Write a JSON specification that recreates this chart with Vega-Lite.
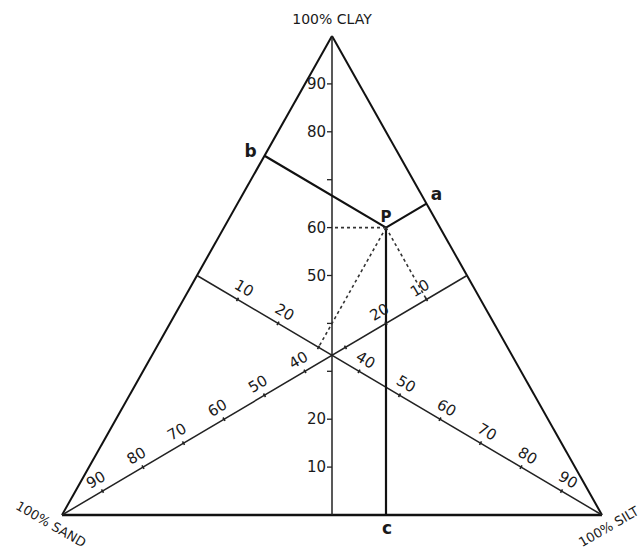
{
  "$schema": "https://vega.github.io/schema/vega-lite/v6.json",
  "width": 540,
  "height": 479,
  "autosize": {"type": "none"},
  "padding": {"left": 62, "top": 36, "right": 42, "bottom": 37},
  "background": "white",
  "config": {"view": {"stroke": null}, "text": {"font": "DejaVu Sans", "fontSize": 15, "color": "#1a1a1a"}},
  "datasets": {
    "seg": [
      {"x": 0, "y": 0, "x2": 50, "y2": 100, "k": "side"},
      {"x": 50, "y": 100, "x2": 100, "y2": 0, "k": "side"},
      {"x": 0, "y": 0, "x2": 100, "y2": 0, "k": "base"},
      {"x": 50, "y": 100, "x2": 50, "y2": 0, "k": "median"},
      {"x": 0, "y": 0, "x2": 75, "y2": 50, "k": "median"},
      {"x": 100, "y": 0, "x2": 25, "y2": 50, "k": "median"},
      {"x": 60, "y": 60, "x2": 67.5, "y2": 65, "k": "construct"},
      {"x": 60, "y": 60, "x2": 37.5, "y2": 75, "k": "construct"},
      {"x": 60, "y": 60, "x2": 60, "y2": 0, "k": "construct"},
      {"x": 60, "y": 60, "x2": 50, "y2": 60, "k": "dotted"},
      {"x": 60, "y": 60, "x2": 47.5, "y2": 35, "k": "dotted"},
      {"x": 60, "y": 60, "x2": 67.5, "y2": 45, "k": "dotted"}
    ],
    "clay": [
      {"x": 50, "y": 90, "v": "90", "lab": true},
      {"x": 50, "y": 80, "v": "80", "lab": true},
      {"x": 50, "y": 70, "v": "70", "lab": false},
      {"x": 50, "y": 60, "v": "60", "lab": true},
      {"x": 50, "y": 50, "v": "50", "lab": true},
      {"x": 50, "y": 40, "v": "40", "lab": false},
      {"x": 50, "y": 30, "v": "30", "lab": false},
      {"x": 50, "y": 20, "v": "20", "lab": true},
      {"x": 50, "y": 10, "v": "10", "lab": true}
    ],
    "sand": [
      {"x": 7.5, "y": 5, "v": "90", "lab": true},
      {"x": 15, "y": 10, "v": "80", "lab": true},
      {"x": 22.5, "y": 15, "v": "70", "lab": true},
      {"x": 30, "y": 20, "v": "60", "lab": true},
      {"x": 37.5, "y": 25, "v": "50", "lab": true},
      {"x": 45, "y": 30, "v": "40", "lab": true},
      {"x": 52.5, "y": 35, "v": "30", "lab": false},
      {"x": 60, "y": 40, "v": "20", "lab": true},
      {"x": 67.5, "y": 45, "v": "10", "lab": true}
    ],
    "silt": [
      {"x": 32.5, "y": 45, "v": "10", "lab": true},
      {"x": 40, "y": 40, "v": "20", "lab": true},
      {"x": 47.5, "y": 35, "v": "30", "lab": false},
      {"x": 55, "y": 30, "v": "40", "lab": true},
      {"x": 62.5, "y": 25, "v": "50", "lab": true},
      {"x": 70, "y": 20, "v": "60", "lab": true},
      {"x": 77.5, "y": 15, "v": "70", "lab": true},
      {"x": 85, "y": 10, "v": "80", "lab": true},
      {"x": 92.5, "y": 5, "v": "90", "lab": true}
    ],
    "pts": [
      {"n": "P", "x": 60, "y": 60},
      {"n": "a", "x": 67.5, "y": 65},
      {"n": "b", "x": 37.5, "y": 75},
      {"n": "c", "x": 60, "y": 0},
      {"n": "100% CLAY", "x": 50, "y": 100},
      {"n": "100% SAND", "x": 0, "y": 0},
      {"n": "100% SILT", "x": 100, "y": 0}
    ]
  },
  "encoding": {
    "x": {"field": "x", "type": "quantitative", "scale": {"domain": [0, 100], "nice": false, "zero": false}, "axis": null},
    "y": {"field": "y", "type": "quantitative", "scale": {"domain": [0, 100], "nice": false, "zero": false}, "axis": null}
  },
  "layer": [
    {
      "data": {"name": "seg"},
      "transform": [{"filter": "datum.k === 'side'"}],
      "mark": {"type": "rule", "color": "#111", "strokeWidth": 2},
      "encoding": {"x2": {"field": "x2"}, "y2": {"field": "y2"}}
    },
    {
      "data": {"name": "seg"},
      "transform": [{"filter": "datum.k === 'base'"}],
      "mark": {"type": "rule", "color": "#111", "strokeWidth": 2.6},
      "encoding": {"x2": {"field": "x2"}, "y2": {"field": "y2"}}
    },
    {
      "data": {"name": "seg"},
      "transform": [{"filter": "datum.k === 'median'"}],
      "mark": {"type": "rule", "color": "#222", "strokeWidth": 1.5},
      "encoding": {"x2": {"field": "x2"}, "y2": {"field": "y2"}}
    },
    {
      "data": {"name": "seg"},
      "transform": [{"filter": "datum.k === 'construct'"}],
      "mark": {"type": "rule", "color": "#111", "strokeWidth": 2.2},
      "encoding": {"x2": {"field": "x2"}, "y2": {"field": "y2"}}
    },
    {
      "data": {"name": "seg"},
      "transform": [{"filter": "datum.k === 'dotted'"}],
      "mark": {"type": "rule", "color": "#333", "strokeWidth": 1.6, "strokeDash": [3, 3]},
      "encoding": {"x2": {"field": "x2"}, "y2": {"field": "y2"}}
    },
    {
      "data": {"name": "clay"},
      "mark": {"type": "point", "shape": "M-1,0L0,0", "size": 100, "stroke": "#222", "strokeWidth": 1.3, "filled": false, "opacity": 1}
    },
    {
      "data": {"name": "sand"},
      "mark": {"type": "point", "shape": "M0,-1L0,1", "size": 16, "angle": -30.6, "stroke": "#222", "strokeWidth": 1.6, "filled": false, "opacity": 1}
    },
    {
      "data": {"name": "silt"},
      "mark": {"type": "point", "shape": "M0,-1L0,1", "size": 16, "angle": 30.6, "stroke": "#222", "strokeWidth": 1.6, "filled": false, "opacity": 1}
    },
    {
      "data": {"name": "clay"},
      "transform": [{"filter": "datum.lab"}],
      "mark": {"type": "text", "align": "right", "baseline": "middle", "dx": -6},
      "encoding": {"text": {"field": "v"}}
    },
    {
      "data": {"name": "sand"},
      "transform": [{"filter": "datum.lab"}],
      "mark": {"type": "text", "align": "center", "baseline": "middle", "angle": -30.6, "dy": -13},
      "encoding": {"text": {"field": "v"}}
    },
    {
      "data": {"name": "silt"},
      "transform": [{"filter": "datum.lab"}],
      "mark": {"type": "text", "align": "center", "baseline": "middle", "angle": 30.6, "dy": -13},
      "encoding": {"text": {"field": "v"}}
    },
    {
      "data": {"name": "pts"},
      "transform": [{"filter": "datum.n === 'P'"}],
      "mark": {"type": "text", "align": "center", "baseline": "middle", "dy": -11, "fontWeight": "bold", "fontSize": 15},
      "encoding": {"text": {"field": "n"}}
    },
    {
      "data": {"name": "pts"},
      "transform": [{"filter": "datum.n === 'a'"}],
      "mark": {"type": "text", "align": "center", "baseline": "middle", "dx": 10, "dy": -9, "fontWeight": "bold", "fontSize": 17},
      "encoding": {"text": {"field": "n"}}
    },
    {
      "data": {"name": "pts"},
      "transform": [{"filter": "datum.n === 'b'"}],
      "mark": {"type": "text", "align": "center", "baseline": "middle", "dx": -14, "dy": -4, "fontWeight": "bold", "fontSize": 17},
      "encoding": {"text": {"field": "n"}}
    },
    {
      "data": {"name": "pts"},
      "transform": [{"filter": "datum.n === 'c'"}],
      "mark": {"type": "text", "align": "center", "baseline": "middle", "dx": 1, "dy": 14, "fontWeight": "bold", "fontSize": 17},
      "encoding": {"text": {"field": "n"}}
    },
    {
      "data": {"name": "pts"},
      "transform": [{"filter": "datum.n === '100% CLAY'"}],
      "mark": {"type": "text", "align": "center", "baseline": "middle", "dy": -16, "fontSize": 14},
      "encoding": {"text": {"field": "n"}}
    },
    {
      "data": {"name": "pts"},
      "transform": [{"filter": "datum.n === '100% SAND'"}],
      "mark": {"type": "text", "align": "center", "baseline": "middle", "angle": 30, "dx": -5, "dy": 14, "fontSize": 13},
      "encoding": {"text": {"field": "n"}}
    },
    {
      "data": {"name": "pts"},
      "transform": [{"filter": "datum.n === '100% SILT'"}],
      "mark": {"type": "text", "align": "center", "baseline": "middle", "angle": -30, "dx": 0, "dy": 14, "fontSize": 13},
      "encoding": {"text": {"field": "n"}}
    }
  ]
}
